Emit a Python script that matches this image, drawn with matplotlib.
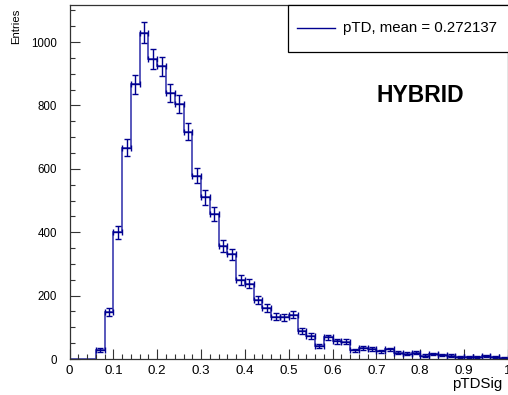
import numpy as np
import matplotlib
matplotlib.use("Agg")
import matplotlib.pyplot as plt
from matplotlib.ticker import MultipleLocator

plt.rcParams['font.family'] = ['Liberation Sans', 'DejaVu Sans']

# histogram: 50 bins of width 0.02 from 0 to 1
bin_edges = np.linspace(0.0, 1.0, 51)
counts = [0, 0, 0, 28, 148, 400, 667, 867, 1030, 947,
          923, 840, 804, 717, 578, 510, 458, 357, 330, 250,
          238, 186, 162, 134, 131, 140, 87, 73, 41, 68,
          56, 55, 27, 35, 32, 24, 30, 20, 17, 20,
          11, 15, 13, 11, 7, 7, 6, 9, 6, 4]
x_ticklabels = ['0', '0.1', '0.2', '0.3', '0.4', '0.5', '0.6', '0.7', '0.8', '0.9', '1']
legend_label = "pTD, mean = 0.272137"
tag_text = "HYBRID"
x_title = "pTDSig"
y_title = "Entries"

counts = np.array(counts, dtype=float)
centers = 0.5 * (bin_edges[:-1] + bin_edges[1:])
half_w = 0.5 * np.diff(bin_edges)

W, H = 508, 395
fig = plt.figure(figsize=(W / 100, H / 100), dpi=100)
ax = fig.add_axes([69.5 / W, 1 - 359 / H, (508 - 69.5) / W, (359 - 5) / H])

line_col = '#3c3cb0'
err_col = '#000090'
ax.stairs(counts, bin_edges, color=line_col, linewidth=1.2)
m = counts > 0
ax.errorbar(centers[m], counts[m], xerr=half_w[m], yerr=np.sqrt(counts[m]),
            fmt='none', ecolor=err_col, elinewidth=1.0, capsize=2.2, capthick=1.0)

ax.set_xlim(0, 1)
ax.set_ylim(0, 1117)
ax.xaxis.set_minor_locator(MultipleLocator(0.02))
ax.yaxis.set_major_locator(MultipleLocator(200))
ax.yaxis.set_minor_locator(MultipleLocator(50))
ax.set_xticks(np.arange(0, 1.01, 0.1))
ax.set_xticklabels(x_ticklabels)
ax.tick_params(which='both', direction='in', colors='#333333', labelcolor='black')
ax.tick_params(which='major', length=7.2, width=0.8)
ax.tick_params(which='minor', length=3.6, width=0.8)
ax.tick_params(axis='y', pad=9, labelsize=8.3)
ax.tick_params(axis='x', pad=4, labelsize=9.6)
for s in ax.spines.values():
    s.set_color('#333333')
    s.set_linewidth(0.9)

fig.text(452 / W, 1 - 388 / H, x_title, ha='left', va='baseline', fontsize=10.8)
fig.text(16 / W, 1 - 9 / H, y_title, ha='center', va='top', rotation=90, fontsize=8.2)

# legend box (ROOT style, running off the right edge)
lx0, ly0, lx1, ly1 = 288 / W, 1 - 52 / H, 1.2, 1 - 5 / H
fig.add_artist(plt.Rectangle((lx0, ly0), lx1 - lx0, ly1 - ly0, transform=fig.transFigure,
                             facecolor='white', edgecolor='black', linewidth=0.9))
fig.add_artist(plt.Line2D([297 / W, 335 / W], [1 - 28 / H, 1 - 28 / H],
                          transform=fig.transFigure, color=err_col, linewidth=1.0))
fig.text(343 / W, 1 - 28 / H, legend_label, ha='left', va='center', fontsize=10.8)

fig.text(420 / W, 1 - 96 / H, tag_text, ha='center', va='center',
         fontsize=16.5, fontweight='bold')

fig.savefig('out.png', dpi=100)
